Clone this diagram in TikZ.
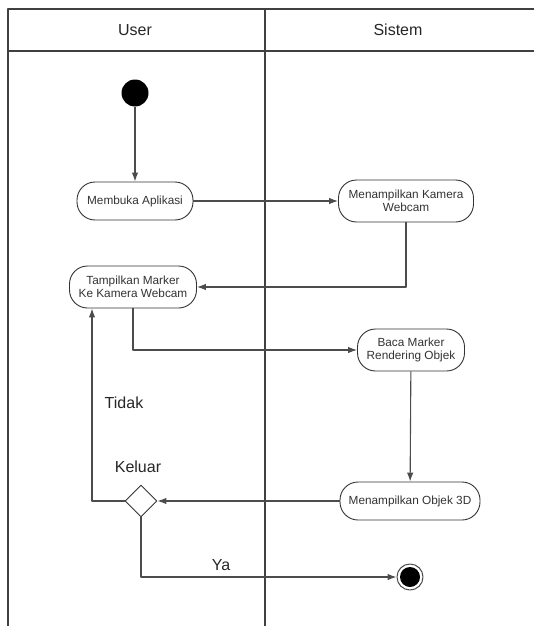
\documentclass[tikz,border=0pt]{standalone}
\usepackage{fontspec}
\setmainfont{Liberation Sans}
\usetikzlibrary{shapes.geometric,arrows.meta}
\tikzset{
  act/.style={draw=black!80,line width=0.9pt,rounded corners=18pt,align=center,
    font=\fontsize{11.8}{13.5}\selectfont,text=black!80,minimum height=38pt,inner sep=2pt},
  flow/.style={draw=black!70,line width=1.1pt,->},
  lbl/.style={font=\fontsize{16}{19}\selectfont,text=black!85},
}
\begin{document}
\begin{tikzpicture}[x=1pt,y=-1pt,>={Latex[length=9pt,width=6.5pt]},line join=round]
  \clip (0,0) rectangle (534,626);
  % lanes
  \draw[black!75,line width=1.2pt] (540,9) -- (8,9) -- (8,630) (8,51) -- (540,51) (265,9) -- (265,630);
  \node[lbl] (user) at (135,30) {User};
  \node[lbl] (sistem) at (398,30) {Sistem};
  % activities
  \node[circle,fill=black,minimum size=27pt,inner sep=0pt] (start) at (135,93) {};
  \node[act,minimum width=116pt] (buka) at (135,201) {Membuka Aplikasi};
  \node[act,minimum width=135pt,minimum height=42pt] (kamera) at (406,201) {Menampilkan Kamera\\Webcam};
  \node[act,minimum width=127pt,minimum height=42pt] (marker) at (133,287) {Tampilkan Marker\\Ke Kamera Webcam};
  \node[act,minimum width=107pt,minimum height=42pt] (baca) at (411,350) {Baca Marker\\Rendering Objek};
  \node[act,minimum width=140pt] (objek) at (410,501) {Menampilkan Objek 3D};
  \node[diamond,draw=black!80,line width=0.9pt,minimum size=32pt,inner sep=0pt] (keluar) at (141,501) {};
  \node[circle,draw=black!70,line width=1pt,fill=white,minimum size=26pt,inner sep=0pt] (end) at (410,577) {};
  \node[circle,fill=black,minimum size=20pt,inner sep=0pt] (endin) at (end) {};
  % flows
  \draw[flow] (start) -- (buka);
  \draw[flow] (buka) -- (kamera);
  \draw[flow] (kamera.south) |- (marker.east);
  \draw[flow] (marker.south) |- (baca.west);
  \draw[flow] (baca) -- (objek);
  \draw[flow] (objek) -- (keluar);
  \draw[flow] (keluar.west) -| ([xshift=-41pt]marker.south);
  \draw[flow] (keluar.south) |- (end.west);
  % guards
  \node[lbl] (tidak) at (124,403) {Tidak};
  \node[lbl] (lkeluar) at (138,467) {Keluar};
  \node[lbl] (ya) at (221,565) {Ya};
\end{tikzpicture}
\end{document}
